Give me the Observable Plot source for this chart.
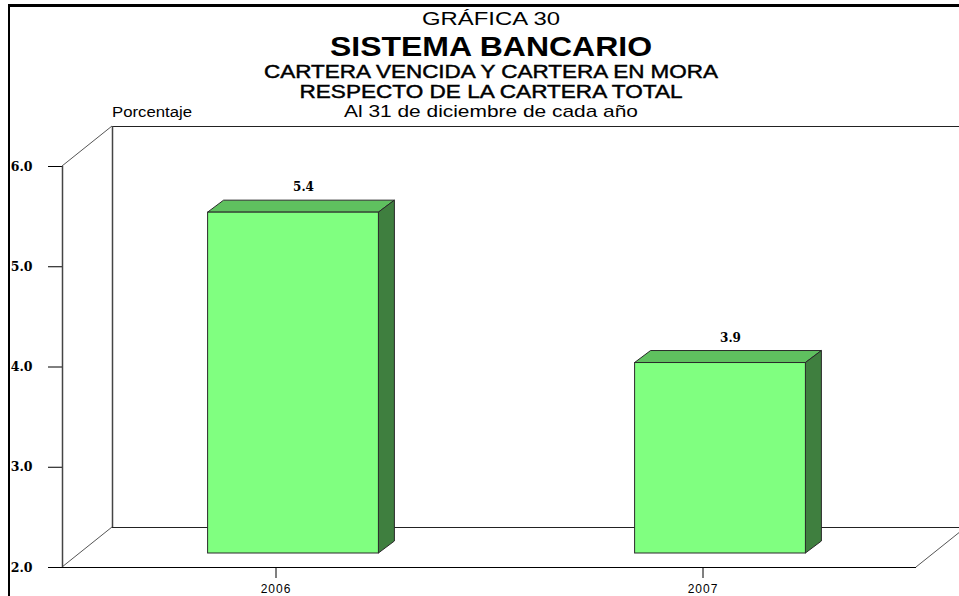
<!DOCTYPE html>
<html><head><meta charset="utf-8">
<script src="https://cdn.jsdelivr.net/npm/d3@7"></script>
<script src="https://cdn.jsdelivr.net/npm/@observablehq/plot@0.6"></script>
<style>
html,body{margin:0;padding:0;background:#fff;}
#wrap{position:relative;width:959px;height:596px;overflow:hidden;background:#fff;font-family:"Liberation Sans",Arial,sans-serif;}
#chart{position:absolute;left:0;top:0;}
.t{position:absolute;white-space:nowrap;color:#000;line-height:1;transform-origin:center center;}
#frame{position:absolute;left:8px;top:4px;width:1000px;height:700px;border-left:2px solid #000;border-top:3px solid #000;pointer-events:none;}
#chart g[aria-label^="y-axis"] text{font-family:"DejaVu Serif",serif;font-weight:bold;font-size:12.5px;}
#chart g[aria-label^="x-axis"] text{font-family:"Liberation Sans",Arial,sans-serif;font-size:12px;letter-spacing:1px;}
</style></head><body>
<div id="wrap"><div id="chart"></div><div id="frame"></div></div>
<script>
// ---- data ----
const years = ["2006", "2007"];
const values = [5.4, 3.9];
const yTicks = [2, 3, 4, 5, 6];
const titles = ["GRÁFICA 30", "SISTEMA BANCARIO", "CARTERA VENCIDA Y CARTERA EN MORA", "RESPECTO DE LA CARTERA TOTAL", "Al 31 de diciembre de cada año"];
const yLabel = "Porcentaje";

// ---- layout / style constants ----
const titleStyle = [
  {cy: 18, size: 19, weight: 400, stroke: 0, w: 138},
  {cy: 47, size: 28, weight: 700, stroke: 0, w: 322},
  {cy: 71, size: 19, weight: 400, stroke: 0.45, w: 454},
  {cy: 91, size: 19, weight: 400, stroke: 0.45, w: 383},
  {cy: 111, size: 17, weight: 400, stroke: 0, w: 294}
];
const titleCx = 491;
const wallDx = 50, wallDy = -40;     // depth of the chart box
const barDx = 17.5, barDy = -14;     // bar placement depth
const sideDx = 16, sideDy = -12;     // bar thickness
const halfW = 0.2;                   // half bar width in band units
const base = yTicks[0], topV = yTicks[yTicks.length - 1];
const lo = -0.5, hi = years.length - 0.5;

const bars = years.map((year, i) => ({i, year, value: values[i]}));
const fmt = d3.format(".1f");

function depthEdges(index, {x, y}) {
  const g = d3.create("svg:g").attr("stroke", "#555").attr("stroke-width", 1);
  for (const [a, b] of [[lo, topV], [lo, base], [hi, base]]) {
    const px = x(a), py = y(b);
    g.append("line").attr("x1", px).attr("y1", py).attr("x2", px + wallDx).attr("y2", py + wallDy);
  }
  return g.node();
}

function barFaces(index, {x, y}) {
  const g = d3.create("svg:g").attr("stroke", "#2a2a2a").attr("stroke-width", 1).attr("stroke-linejoin", "round");
  for (const d of bars) {
    const L = x(d.i - halfW) + barDx, R = x(d.i + halfW) + barDx;
    const T = y(d.value) + barDy, B = y(base) + barDy;
    g.append("polygon").attr("fill", "#5fc05f")
      .attr("points", [[L, T], [R, T], [R + sideDx, T + sideDy], [L + sideDx, T + sideDy]].join(" "));
    g.append("polygon").attr("fill", "#3f7f3f")
      .attr("points", [[R, T], [R + sideDx, T + sideDy], [R + sideDx, B + sideDy], [R, B]].join(" "));
  }
  return g.node();
}

const chart = Plot.plot({
  width: 959, height: 596,
  marginLeft: 62, marginRight: 43, marginTop: 166, marginBottom: 29,
  style: {background: "transparent", overflow: "visible"},
  x: {type: "linear", domain: [lo, hi], ticks: bars.map(d => d.i), tickFormat: i => years[i], tickSize: 11, tickPadding: 6, label: null},
  y: {domain: [base, topV], ticks: yTicks, tickFormat: fmt, tickSize: 14, tickPadding: 16, label: null},
  marks: [
    Plot.ruleY([base, topV], {dx: wallDx, dy: wallDy, stroke: "#222", strokeWidth: 1.2}),
    Plot.ruleX([lo], {y1: base, y2: topV, dx: wallDx, dy: wallDy, stroke: "#444", strokeWidth: 1.5}),
    depthEdges,
    Plot.ruleX([lo], {y1: base, y2: topV, stroke: "#444", strokeWidth: 1.5}),
    Plot.ruleY([base], {stroke: "#000", strokeWidth: 1.2}),
    barFaces,
    Plot.rect(bars, {x1: d => d.i - halfW, x2: d => d.i + halfW, y1: base, y2: "value", dx: barDx, dy: barDy,
      fill: "#80ff80", stroke: "#2a2a2a", strokeWidth: 1}),
    Plot.text(bars, {x: "i", y: "value", text: d => fmt(d.value), dx: barDx + 10, dy: barDy + sideDy - 13,
      fontFamily: "DejaVu Serif", fontWeight: "bold", fontSize: 12, fill: "#000"})
  ]
});
document.getElementById("chart").appendChild(chart);

// ---- titles ----
const wrap = document.getElementById("wrap");
const frameEl = document.getElementById("frame");
titles.forEach((txt, k) => {
  const s = titleStyle[k];
  const el = document.createElement("div");
  el.className = "t";
  el.textContent = txt;
  el.style.fontSize = s.size + "px";
  el.style.fontWeight = s.weight;
  if (s.stroke) el.style.webkitTextStroke = s.stroke + "px #000";
  el.style.left = titleCx + "px";
  el.style.top = s.cy + "px";
  wrap.insertBefore(el, frameEl);
  const w = el.getBoundingClientRect().width;
  el.style.transform = `translate(-50%,-50%) scaleX(${s.w / w})`;
});
const yl = document.createElement("div");
yl.className = "t";
yl.textContent = yLabel;
yl.style.fontSize = "14px";
yl.style.left = "112px";
yl.style.top = "105px";
yl.style.transformOrigin = "left center";
wrap.insertBefore(yl, frameEl);
const ylw = yl.getBoundingClientRect().width;
yl.style.transform = `scaleX(${80 / ylw})`;
</script>
</body></html>
